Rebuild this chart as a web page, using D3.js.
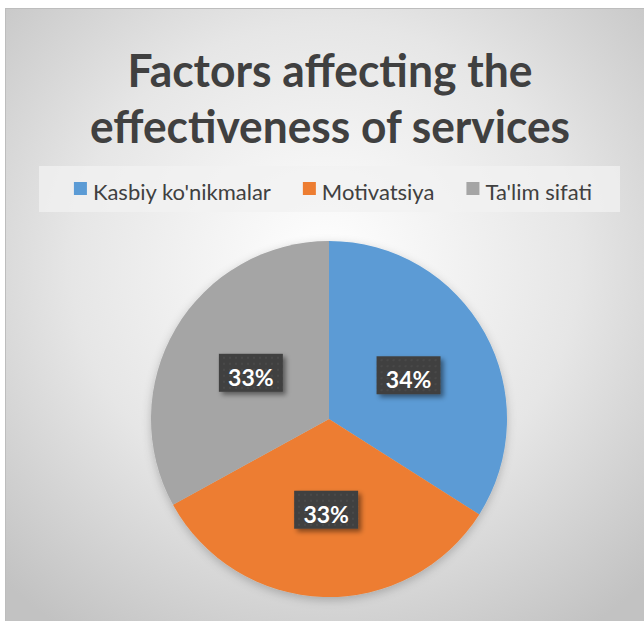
<!DOCTYPE html>
<html>
<head>
<meta charset="utf-8">
<script src="https://cdn.jsdelivr.net/npm/d3@7"></script>
<style>
  body { margin: 0; background: #fff; }
  svg { display: block; }
</style>
</head>
<body>
<div id="chart"></div>
<script>
const titleLines = ["Factors affecting the", "effectiveness of services"];
const categories = ["Kasbiy ko'nikmalar", "Motivatsiya", "Ta'lim sifati"];
const values = [34, 33, 33];

const width = 644, height = 621;
const fontFamily = "Lato, 'Open Sans', sans-serif";

const svg = d3.select("#chart").append("svg")
  .attr("width", width)
  .attr("height", height);

const defs = svg.append("defs");

// background gradient of the chart area
const grad = defs.append("radialGradient")
  .attr("id", "bg")
  .attr("cx", "50%").attr("cy", "42%").attr("r", "72%");
grad.append("stop").attr("offset", "0%").attr("stop-color", "#ffffff");
grad.append("stop").attr("offset", "55%").attr("stop-color", "#e6e6e6");
grad.append("stop").attr("offset", "100%").attr("stop-color", "#c2c2c2");

const shadow = defs.append("filter")
  .attr("id", "shadow")
  .attr("x", "-20%").attr("y", "-20%").attr("width", "150%").attr("height", "150%");
shadow.append("feDropShadow")
  .attr("dx", 3).attr("dy", 3).attr("stdDeviation", 2.5)
  .attr("flood-color", "#000").attr("flood-opacity", 0.45);

const pieShadow = defs.append("filter")
  .attr("id", "pieShadow")
  .attr("x", "-20%").attr("y", "-20%").attr("width", "140%").attr("height", "140%");
pieShadow.append("feDropShadow")
  .attr("dx", 0).attr("dy", 3).attr("stdDeviation", 5)
  .attr("flood-color", "#000").attr("flood-opacity", 0.22);

// dotted texture for label boxes
const pat = defs.append("pattern")
  .attr("id", "dots")
  .attr("width", 6).attr("height", 6)
  .attr("patternUnits", "userSpaceOnUse");
pat.append("rect").attr("width", 6).attr("height", 6).attr("fill", "#404040");
pat.append("circle").attr("cx", 3).attr("cy", 3).attr("r", 0.9).attr("fill", "#4d4d4d");

// chart area
svg.append("rect")
  .attr("x", 5.5).attr("y", 8.5)
  .attr("width", width - 5).attr("height", height - 8)
  .attr("fill", "url(#bg)")
  .attr("stroke", "#bdbdbd")
  .attr("stroke-width", 1);

// title
const titleTargets = [405, 480];
const title = svg.append("g")
  .attr("font-family", fontFamily)
  .attr("font-weight", "bold")
  .attr("font-size", 46)
  .attr("fill", "#404040")
  .attr("text-anchor", "middle");
title.selectAll("text")
  .data(titleLines)
  .join("text")
  .attr("x", 330)
  .attr("y", (d, i) => 87 + i * 56)
  .text(d => d)
  .each(function(d, i) {
    const w = this.getComputedTextLength();
    if (Math.abs(w - titleTargets[i]) > 6) {
      d3.select(this).attr("textLength", titleTargets[i]).attr("lengthAdjust", "spacingAndGlyphs");
    }
  });

// legend
const color = d3.scaleOrdinal()
  .domain(categories)
  .range(["#5b9bd5", "#ed7d31", "#a5a5a5"]);

svg.append("rect")
  .attr("x", 39).attr("y", 166)
  .attr("width", 581).attr("height", 46)
  .attr("fill", "#f2f2f2")
  .attr("opacity", 0.75);

const legend = svg.append("g")
  .attr("font-family", fontFamily)
  .attr("font-size", 22)
  .attr("fill", "#404040");

const items = legend.selectAll("g")
  .data(categories)
  .join("g");
items.append("rect")
  .attr("width", 13).attr("height", 13)
  .attr("y", 182)
  .attr("fill", d => color(d));
items.append("text")
  .attr("x", 19)
  .attr("y", 200)
  .text(d => d);

let cursor = 0;
const offsets = [];
items.each(function() {
  offsets.push(cursor);
  const tw = d3.select(this).select("text").node().getComputedTextLength();
  cursor += 19 + tw + 32;
});
const legendWidth = cursor - 32;
const legendStart = 333 - legendWidth / 2;
items.attr("transform", (d, i) => `translate(${legendStart + offsets[i]},0)`);

// pie
const cx = 329, cy = 419, radius = 178;
const total = d3.sum(values);
const pie = d3.pie().sort(null).value(d => d);
const arcs = pie(values);
const arc = d3.arc().innerRadius(0).outerRadius(radius);
const labelArc = d3.arc().innerRadius(radius * 0.51).outerRadius(radius * 0.51);

const plot = svg.append("g")
  .attr("transform", `translate(${cx},${cy})`);

plot.append("g")
  .attr("filter", "url(#pieShadow)")
  .selectAll("path")
  .data(arcs)
  .join("path")
  .attr("d", arc)
  .attr("fill", (d, i) => color(categories[i]));

const pct = d3.format(".0%");
const labels = plot.selectAll("g.label")
  .data(arcs)
  .join("g")
  .attr("class", "label")
  .attr("transform", d => `translate(${labelArc.centroid(d)})`);
labels.append("rect")
  .attr("x", -32).attr("y", -19)
  .attr("width", 64).attr("height", 38)
  .attr("fill", "url(#dots)")
  .attr("filter", "url(#shadow)");
labels.append("text")
  .attr("text-anchor", "middle")
  .attr("y", 13)
  .attr("font-family", fontFamily)
  .attr("font-weight", "bold")
  .attr("font-size", 23)
  .attr("fill", "#ffffff")
  .text(d => pct(d.data / total));
</script>
</body>
</html>
